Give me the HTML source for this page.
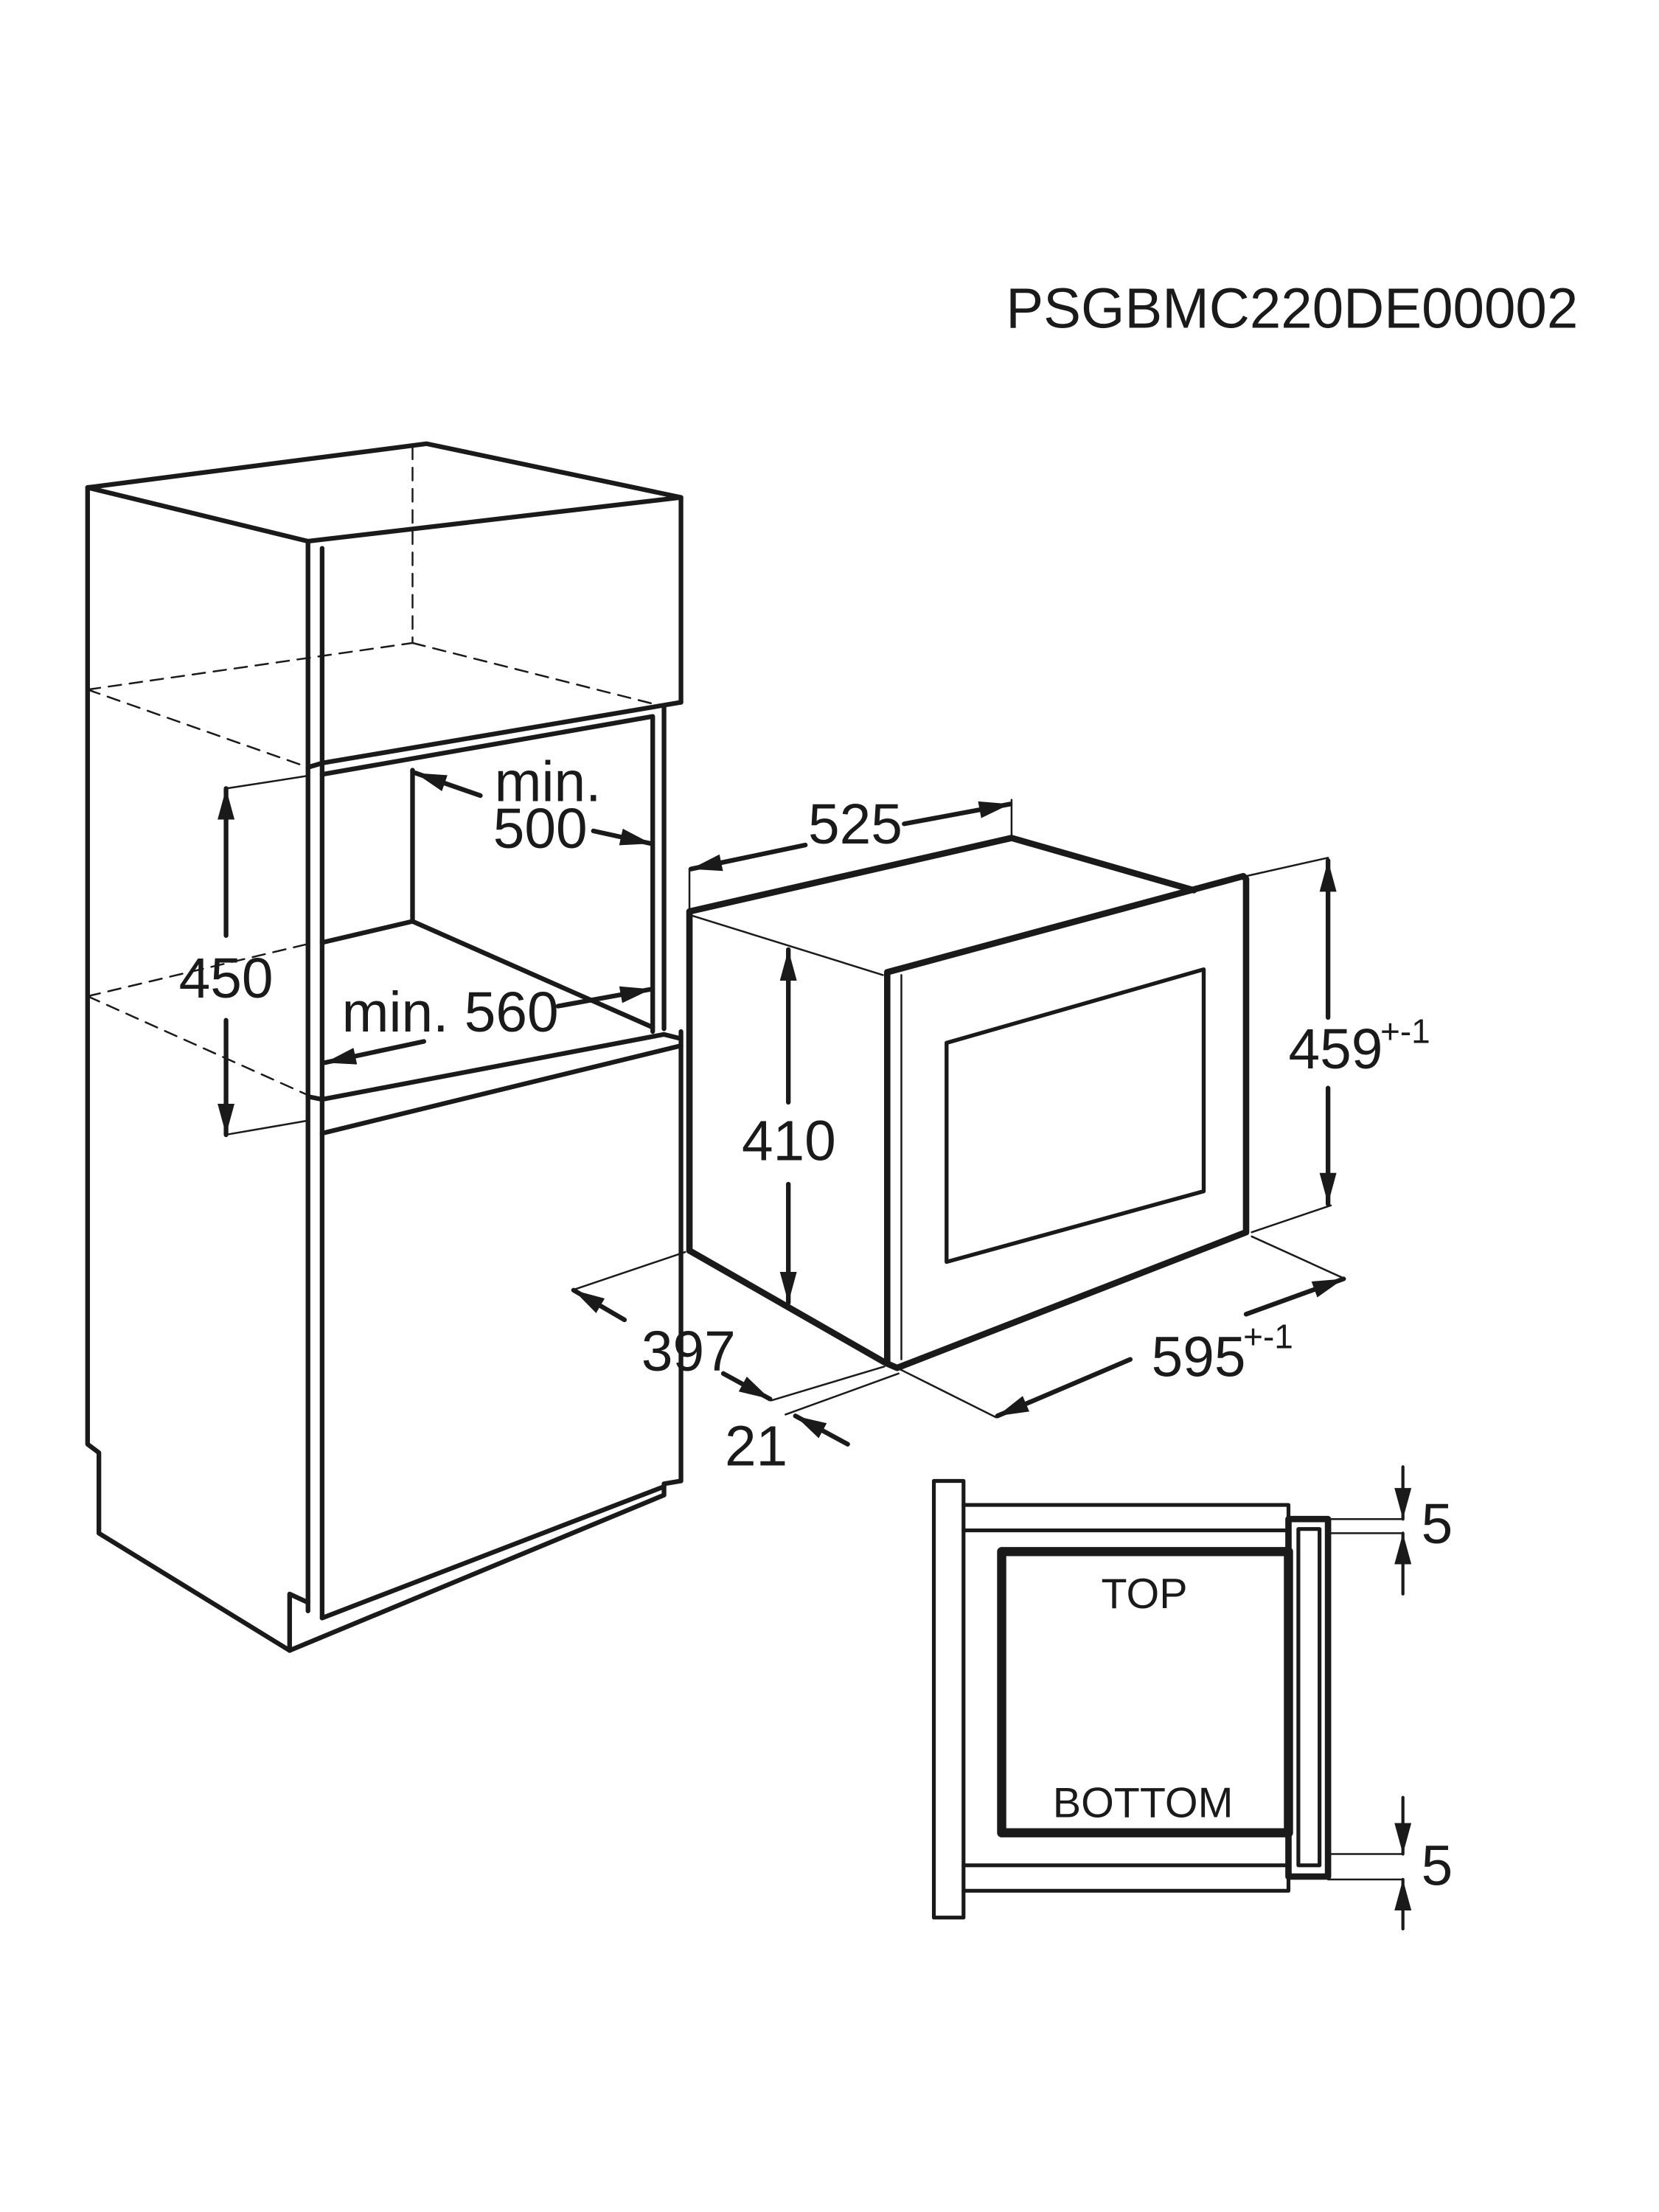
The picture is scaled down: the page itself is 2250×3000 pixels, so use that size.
<!DOCTYPE html>
<html><head><meta charset="utf-8"><style>
html,body{margin:0;padding:0;background:#fff}
svg{display:block}
text{font-family:"Liberation Sans",sans-serif;fill:#1a1a1a}
</style></head><body>
<svg width="2250" height="3000" viewBox="0 0 1159 1545" preserveAspectRatio="none" xmlns="http://www.w3.org/2000/svg">
<defs>
<marker id="a" viewBox="0 0 22 12" refX="22" refY="6" markerWidth="22" markerHeight="12" markerUnits="userSpaceOnUse" orient="auto-start-reverse">
<path d="M0,0 L22,6 L0,12 z" fill="#1a1a1a"/></marker>
</defs>
<g transform="scale(0.987)">
<g stroke="#1a1a1a" fill="none" stroke-linejoin="round" stroke-linecap="round">
<!-- cabinet -->
<g stroke-width="3.3">
<polyline points="218,383 62,345 302,314 482,352 218,383"/>
<polyline points="62,345 62,1022 70,1028 70,1085 205,1168 470,1058 470,1050 482,1048 482,730"/>
<line x1="218" y1="383" x2="218" y2="1140"/>
<line x1="228" y1="388" x2="228" y2="1145"/>
<polyline points="205,1168 205,1128 218,1134"/>
<line x1="482" y1="352" x2="482" y2="497"/>
<polyline points="228,540 482,497"/>
<polyline points="218,543 228,540"/>
<polyline points="228,548 462,507 462,730"/>
<line x1="470" y1="500" x2="470" y2="728"/>
<polyline points="292,545 292,652 228,667"/>
<polyline points="292,652 462,727"/>
<polyline points="218,776 228,778 470,732 482,735"/>
<polyline points="228,802 482,740"/>
<polyline points="228,1145 470,1052"/>
</g>
<g stroke-width="1.3" stroke-dasharray="9,6">
<line x1="292" y1="316" x2="292" y2="455"/>
<line x1="62" y1="488" x2="292" y2="455"/>
<line x1="292" y1="455" x2="470" y2="500"/>
<line x1="62" y1="488" x2="218" y2="543"/>
<line x1="62" y1="705" x2="218" y2="668"/>
<line x1="62" y1="705" x2="218" y2="775"/>
</g>
<g stroke-width="1.3">
<line x1="160" y1="558" x2="218" y2="549"/>
<line x1="160" y1="803" x2="218" y2="793"/>
</g>
<g stroke-width="3.3">
<line x1="160" y1="662" x2="160" y2="558" marker-end="url(#a)"/>
<line x1="160" y1="722" x2="160" y2="803" marker-end="url(#a)"/>
<line x1="340" y1="563" x2="294" y2="547" marker-end="url(#a)"/>
<line x1="420" y1="588" x2="461" y2="597" marker-end="url(#a)"/>
<line x1="300" y1="737" x2="230" y2="752" marker-end="url(#a)"/>
<line x1="395" y1="712" x2="461" y2="700" marker-end="url(#a)"/>
</g>
<!-- microwave -->
<g stroke-width="1.3">
<line x1="488" y1="615" x2="488" y2="645"/>
<line x1="716" y1="566" x2="716" y2="593"/>
<line x1="490" y1="648" x2="625" y2="690"/>
<line x1="882" y1="620" x2="940" y2="607"/>
<line x1="886" y1="872" x2="942" y2="853"/>
<line x1="886" y1="875" x2="952" y2="905"/>
<line x1="635" y1="968" x2="705" y2="1003"/>
<line x1="485" y1="886" x2="405" y2="913"/>
<line x1="546" y1="991" x2="626" y2="967"/>
<line x1="556" y1="1001" x2="636" y2="972"/>
<line x1="638" y1="690" x2="638" y2="962"/>
</g>
<g stroke-width="4.5">
<polyline points="488,885 488,645 716,593 845,630"/>
<line x1="488" y1="885" x2="626" y2="964"/>
<polyline points="628,965 628,688 880,620 882,622 882,872 635,968 628,965"/>
</g>
<polygon points="670,738 852,686 852,843 670,893" stroke-width="2.8"/>
<g stroke-width="3.3">
<line x1="570" y1="598" x2="489" y2="615" marker-end="url(#a)"/>
<line x1="640" y1="583" x2="715" y2="569" marker-end="url(#a)"/>
<line x1="558" y1="780" x2="558" y2="672" marker-end="url(#a)"/>
<line x1="558" y1="838" x2="558" y2="922" marker-end="url(#a)"/>
<line x1="940" y1="720" x2="940" y2="609" marker-end="url(#a)"/>
<line x1="940" y1="770" x2="940" y2="852" marker-end="url(#a)"/>
<line x1="882" y1="930" x2="951" y2="905" marker-end="url(#a)"/>
<line x1="800" y1="962" x2="706" y2="1002" marker-end="url(#a)"/>
<line x1="442" y1="934" x2="406" y2="913" marker-end="url(#a)"/>
<line x1="512" y1="972" x2="545" y2="990" marker-end="url(#a)"/>
<line x1="600" y1="1022" x2="563" y2="1002" marker-end="url(#a)"/>
</g>
<!-- bottom detail -->
<g stroke-width="2.7">
<rect x="661" y="1048" width="21" height="309"/>
<polyline points="682,1065 912,1065 912,1083 682,1083"/>
<polyline points="682,1320 912,1320 912,1338 682,1338"/>
<rect x="919" y="1082" width="15" height="238"/>
</g>
<rect x="912" y="1075" width="28" height="253" stroke-width="4.5"/>
<rect x="709" y="1098" width="203" height="199" stroke-width="6.5"/>
<g stroke-width="1.3">
<line x1="940" y1="1075" x2="993" y2="1075"/>
<line x1="940" y1="1085" x2="993" y2="1085"/>
<line x1="940" y1="1312" x2="993" y2="1312"/>
<line x1="940" y1="1330" x2="993" y2="1330"/>
</g>
<g stroke-width="2.2">
<line x1="993" y1="1038" x2="993" y2="1075" marker-end="url(#a)"/>
<line x1="993" y1="1128" x2="993" y2="1085" marker-end="url(#a)"/>
<line x1="993" y1="1272" x2="993" y2="1312" marker-end="url(#a)"/>
<line x1="993" y1="1365" x2="993" y2="1330" marker-end="url(#a)"/>
</g>
</g>
<g font-size="40">
<text x="1117" y="232" text-anchor="end" textLength="405" lengthAdjust="spacingAndGlyphs">PSGBMC220DE00002</text>
<text x="160" y="706" text-anchor="middle">450</text>
<text x="350" y="567">min.</text>
<text x="349" y="600">500</text>
<text x="242" y="730">min. 560</text>
<text x="572" y="597">525</text>
<text x="525" y="821">410</text>
<text x="912" y="756">459</text>
<text x="977" y="738" font-size="24">+-1</text>
<text x="815" y="974">595</text>
<text x="880" y="954" font-size="24">+-1</text>
<text x="454" y="970">397</text>
<text x="513" y="1037">21</text>
<text x="1006" y="1092">5</text>
<text x="1006" y="1334">5</text>
<text x="810" y="1138" text-anchor="middle" font-size="30">TOP</text>
<text x="809" y="1286" text-anchor="middle" font-size="30">BOTTOM</text>
</g>
</g>
</svg>
</body></html>
